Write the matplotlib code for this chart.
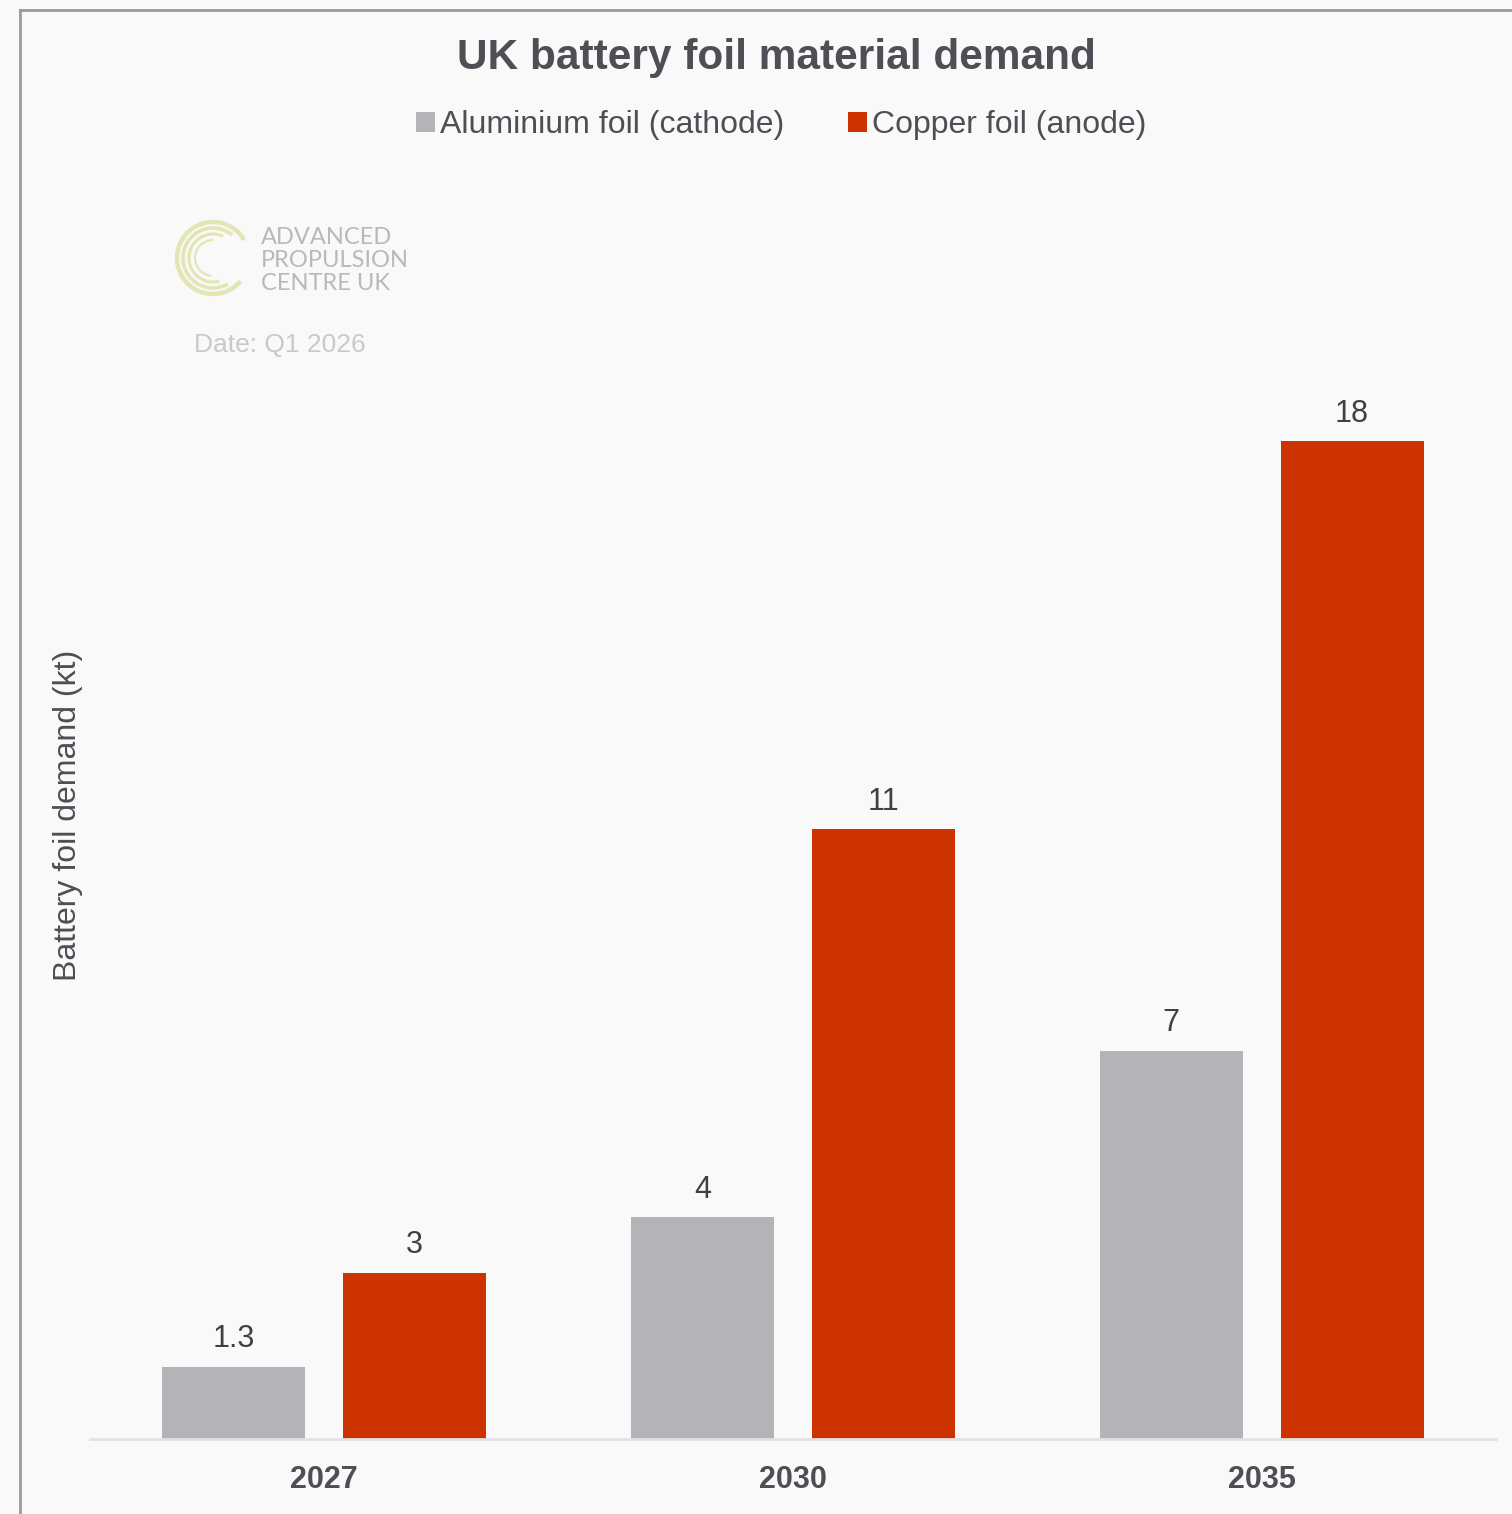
import matplotlib
matplotlib.use("Agg")
import matplotlib.pyplot as plt
from matplotlib.patches import Arc
from matplotlib.lines import Line2D
import numpy as np

plt.rcParams['font.family'] = ['Liberation Sans', 'DejaVu Sans']

years = ["2027", "2030", "2035"]
series_names = ["Aluminium foil (cathode)", "Copper foil (anode)"]
aluminium = [1.3, 4, 7]
copper = [3, 11, 18]
colors = ["#b3b3b8", "#cc3300"]

W, H = 1512, 1514
fig = plt.figure(figsize=(W / 100, H / 100), dpi=100, facecolor="#f9f9f9")

# outer frame (top and left edges)
fig.add_artist(Line2D([20 / W, 20 / W], [0, 1 - 10 / H], transform=fig.transFigure,
                      color="#9a9a9a", lw=2))
fig.add_artist(Line2D([20 / W, 1], [1 - 10 / H, 1 - 10 / H], transform=fig.transFigure,
                      color="#9a9a9a", lw=2))

ax_left, ax_right = 90 / W, 1496 / W
ax_bottom = 1 - 1439 / H
ax_top = 1 - 380 / H
ax = fig.add_axes([ax_left, ax_bottom, ax_right - ax_left, ax_top - ax_bottom])
ax.set_facecolor("none")

x = np.arange(len(years))
width = 0.305
offset = 0.193
b1 = ax.bar(x - offset, aluminium, width, color=colors[0], label=series_names[0], zorder=2)
b2 = ax.bar(x + offset, copper, width, color=colors[1], label=series_names[1], zorder=2)

scale = 998 / 18.0  # pixels per unit
ax.set_xlim(-0.5, 2.5)
ax.set_ylim(0, (1439 - 380) / scale)

for bars, vals in ((b1, aluminium), (b2, copper)):
    for bar, v in zip(bars, vals):
        ax.annotate(f"{v:g}", (bar.get_x() + bar.get_width() / 2, v),
                    xytext=(0, 9), textcoords="offset points",
                    ha="center", va="bottom", fontsize=22, color="#404040")

for s in ("top", "right", "left"):
    ax.spines[s].set_visible(False)
ax.spines["bottom"].set_color("#e2e2e6")
ax.spines["bottom"].set_linewidth(2)
ax.set_yticks([])
ax.set_xticks(x)
ax.set_xticklabels(years, fontsize=22, fontweight="bold", color="#4d4f55")
ax.tick_params(axis="x", length=0, pad=19)

fig.text(68 / W, 1 - 815 / H, "Battery foil demand (kt)", rotation=90,
         ha="center", va="center", fontsize=23, color="#4d4f55")

fig.text(776 / W, 1 - 58 / H, "UK battery foil material demand", ha="center",
         va="center", fontsize=30.5, fontweight="bold", color="#4d4f55")

leg = fig.legend(handles=[b1, b2], labels=series_names, loc="center",
                 bbox_to_anchor=(781 / W, 1 - 125 / H), ncol=2, frameon=False,
                 fontsize=23, handlelength=0.6, handleheight=0.6, handletextpad=0.15,
                 columnspacing=2.0, labelcolor="#4d4f55")

# logo: concentric arcs
logo_ax = fig.add_axes([0, 0, 1, 1], facecolor="none")
logo_ax.set_xlim(0, W)
logo_ax.set_ylim(H, 0)
logo_ax.axis("off")
cx, cy = 213, 258
for r, t1, t2, lw in ((36, 40, 330, 3.2), (30, 60, 310, 2.6), (24, 75, 295, 2.2), (18, 95, 270, 1.6)):
    logo_ax.add_patch(Arc((cx, cy), 2 * r, 2 * r, theta1=t1, theta2=t2,
                          color="#e3e6b4", lw=lw))
for i, line in enumerate(["ADVANCED", "PROPULSION", "CENTRE UK"]):
    logo_ax.text(261, 237 + i * 23.5, line, ha="left", va="center", fontsize=17,
                 color="#b9b9bb", family=["Lato", "DejaVu Sans"])
logo_ax.text(194, 345, "Date: Q1 2026", ha="left", va="center", fontsize=19,
             color="#c9c9cc")

fig.savefig("out.png", dpi=100, facecolor=fig.get_facecolor())
